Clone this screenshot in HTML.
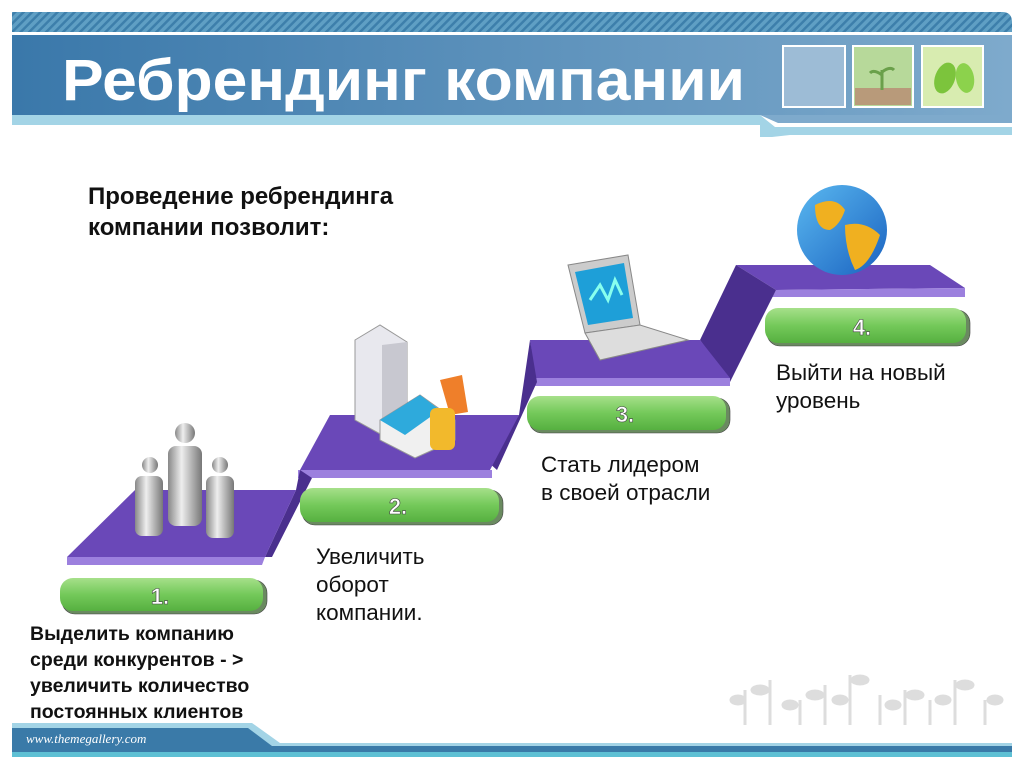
<!DOCTYPE html>
<html><head><meta charset="utf-8"><style>
body{margin:0;width:1024px;height:768px;overflow:hidden;background:#fff;font-family:"Liberation Sans",sans-serif;}
svg{position:absolute;left:0;top:0}
.t{position:absolute;color:#111;font-size:22.5px;line-height:28px}
</style></head><body>
<svg width="1024" height="768" viewBox="0 0 1024 768">
<defs>
<pattern id="hatch" width="6" height="6" patternUnits="userSpaceOnUse" patternTransform="rotate(45)">
<rect width="6" height="6" fill="#5f9fc4"/><rect width="2.5" height="6" fill="#3d7fab"/></pattern>
<linearGradient id="band" x1="0" x2="1"><stop offset="0" stop-color="#3a78aa"/><stop offset="1" stop-color="#7eaacc"/></linearGradient>
<linearGradient id="pill" x1="0" y1="0" x2="0" y2="1"><stop offset="0" stop-color="#a6e08a"/><stop offset="0.5" stop-color="#74c95a"/><stop offset="1" stop-color="#56b040"/></linearGradient>
<linearGradient id="globe" x1="0" y1="0" x2="1" y2="1"><stop offset="0" stop-color="#5ab8f0"/><stop offset="1" stop-color="#1a62c0"/></linearGradient>
<linearGradient id="person" x1="0" x2="1"><stop offset="0" stop-color="#888"/><stop offset="0.4" stop-color="#eee"/><stop offset="1" stop-color="#777"/></linearGradient>
</defs>
<!-- header -->
<path d="M12 12 H1002 Q1012 12 1012 22 V32 H12 Z" fill="url(#hatch)"/>
<rect x="12" y="35" width="1000" height="80" fill="url(#band)"/>
<path d="M12 115 H760 L775 127 H1012 V135 H790 L772 137 H760 L760 125 H12 Z" fill="#a3d4e6"/>
<path d="M760 115 H1012 V123 H778 Z" fill="#7eaacc"/>
<rect x="783" y="46" width="62" height="61" fill="#9dbcd6" stroke="#fff" stroke-width="2"/>
<rect x="853" y="46" width="60" height="61" fill="#b7d99a" stroke="#fff" stroke-width="2"/>
<rect x="855" y="88" width="56" height="17" fill="#b89a7a"/>
<path d="M882 90 V70 M882 75 q-8 -6 -12 -2 M882 72 q8 -6 12 -2" stroke="#6aa04a" stroke-width="3" fill="none"/>
<rect x="922" y="46" width="61" height="61" fill="#d8ecb0" stroke="#fff" stroke-width="2"/>
<ellipse cx="945" cy="78" rx="10" ry="16" fill="#7cc43c" transform="rotate(20 945 78)"/>
<ellipse cx="965" cy="78" rx="9" ry="15" fill="#8cd24c" transform="rotate(-10 965 78)"/>
<text x="62" y="100" font-family="Liberation Sans" font-weight="bold" font-size="58" fill="#fff" textLength="683" lengthAdjust="spacingAndGlyphs">Ребрендинг компании</text>
<!-- stairs -->
<!-- step4 -->
<polygon points="736,265 930,265 965,288 776,290" fill="#6a48b8"/>
<polygon points="776,290 965,288 965,297 772,297" fill="#9c80de"/>
<polygon points="736,265 776,290 730,382 700,340" fill="#4a2f8e"/>
<!-- step3 -->
<polygon points="530,340 700,340 730,378 535,378" fill="#6a48b8"/>
<polygon points="535,378 730,378 730,386 532,386" fill="#9c80de"/>
<polygon points="530,340 537,382 497,470 488,462 519,415" fill="#4a2f8e"/>
<!-- step2 -->
<polygon points="330,415 519,415 490,470 300,470" fill="#6a48b8"/>
<polygon points="298,470 492,470 492,478 298,478" fill="#9c80de"/>
<polygon points="300,470 312,478 272,557 265,557 296,490" fill="#4a2f8e"/>
<!-- step1 -->
<polygon points="135,490 296,490 265,557 67,557" fill="#6a48b8"/>
<polygon points="67,557 265,557 262,565 67,565" fill="#9c80de"/>
<!-- pills -->
<g font-family="Liberation Sans" font-weight="bold" font-size="22" fill="#fff" text-anchor="middle" stroke="#444" stroke-width="0.6">
<rect x="62" y="580" width="205" height="34" rx="13" fill="#6a8a60"/>
<rect x="60" y="578" width="203" height="33" rx="13" fill="url(#pill)" stroke="none"/>
<text x="160" y="604">1.</text>
<rect x="302" y="490" width="201" height="35" rx="13" fill="#6a8a60"/>
<rect x="300" y="488" width="199" height="34" rx="13" fill="url(#pill)" stroke="none"/>
<text x="398" y="514">2.</text>
<rect x="529" y="398" width="201" height="35" rx="13" fill="#6a8a60"/>
<rect x="527" y="396" width="199" height="34" rx="13" fill="url(#pill)" stroke="none"/>
<text x="625" y="422">3.</text>
<rect x="767" y="310" width="203" height="36" rx="13" fill="#6a8a60"/>
<rect x="765" y="308" width="201" height="35" rx="13" fill="url(#pill)" stroke="none"/>
<text x="862" y="335">4.</text>
</g>
<!-- people -->
<g fill="url(#person)">
<circle cx="185" cy="433" r="10"/><rect x="168" y="446" width="34" height="80" rx="8"/>
<circle cx="150" cy="465" r="8"/><rect x="135" y="476" width="28" height="60" rx="7"/>
<circle cx="220" cy="465" r="8"/><rect x="206" y="476" width="28" height="62" rx="7"/>
</g>
<!-- building -->
<polygon points="355,340 380,325 407,342 407,420 382,435 355,420" fill="#e8e8ee" stroke="#999"/>
<polygon points="382,345 407,342 407,420 382,435" fill="#c8c8d0"/>
<polygon points="380,420 420,395 455,420 455,440 415,458 380,440" fill="#f0f0f0" stroke="#999"/>
<polygon points="380,420 420,395 440,410 405,435" fill="#2eaadc"/>
<polygon points="440,380 462,375 468,412 450,415" fill="#ef7f2a"/>
<rect x="430" y="408" width="25" height="42" rx="6" fill="#f2b92c"/>
<!-- laptop -->
<polygon points="568,265 628,255 640,325 585,333" fill="#ccc" stroke="#888"/>
<polygon points="575,272 624,263 633,318 588,325" fill="#1e9fd8"/>
<polyline points="590,300 600,285 608,300 615,280 622,295" stroke="#8fe" stroke-width="3" fill="none"/>
<polygon points="585,333 640,325 688,340 600,360" fill="#ddd" stroke="#888"/>
<!-- globe -->
<circle cx="842" cy="230" r="45" fill="url(#globe)"/>
<path d="M815 205 q20 -10 30 5 q-5 15 -15 20 q-15 0 -15 -25Z M845 225 q20 -5 35 10 q-10 30 -25 35 q-10 -20 -10 -45Z" fill="#f0b020"/>
<!-- plants -->
<g stroke="#ddd" stroke-width="3" fill="#ddd">
<path d="M745 725 V690 M770 725 V680 M800 725 V700 M825 725 V685 M850 725 V675 M880 725 V695 M905 725 V690 M930 725 V700 M955 725 V680 M985 725 V700" fill="none"/>
<ellipse cx="760" cy="690" rx="8" ry="4"/><ellipse cx="815" cy="695" rx="8" ry="4"/><ellipse cx="860" cy="680" rx="8" ry="4"/><ellipse cx="915" cy="695" rx="8" ry="4"/><ellipse cx="965" cy="685" rx="8" ry="4"/><ellipse cx="995" cy="700" rx="7" ry="4"/>
<ellipse cx="738" cy="700" rx="7" ry="4"/><ellipse cx="790" cy="705" rx="7" ry="4"/><ellipse cx="840" cy="700" rx="7" ry="4"/><ellipse cx="893" cy="705" rx="7" ry="4"/><ellipse cx="943" cy="700" rx="7" ry="4"/>
</g>
<!-- footer -->
<path d="M12 723 H252 L280 743 H1012 V752 H12 Z" fill="#a3d4e6"/>
<path d="M12 728 H248 L272 746 H1012 V752 H12 Z" fill="#3a7aa8"/>
<rect x="12" y="752" width="1000" height="5" fill="#5ec0d4"/>
<text x="26" y="743" font-family="Liberation Serif" font-style="italic" font-size="13" fill="#fff">www.themegallery.com</text>
</svg>
<div class="t" style="left:88px;top:181px;font-weight:bold;font-size:24px;line-height:31px">Проведение ребрендинга<br>компании позволит:</div>
<div class="t" style="left:30px;top:621px;font-weight:bold;font-size:19.5px;line-height:26px">Выделить компанию<br>среди конкурентов - &gt;<br>увеличить количество<br>постоянных клиентов</div>
<div class="t" style="left:316px;top:543px">Увеличить<br>оборот<br>компании.</div>
<div class="t" style="left:541px;top:451px">Стать лидером<br>в своей отрасли</div>
<div class="t" style="left:776px;top:359px">Выйти на новый<br>уровень</div>
</body></html>
